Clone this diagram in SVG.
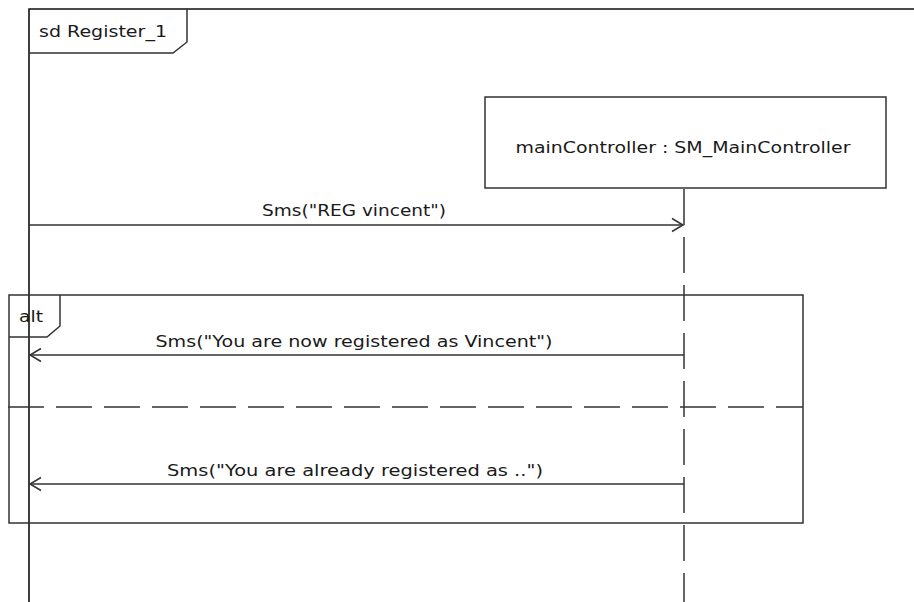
<svg xmlns="http://www.w3.org/2000/svg" width="914" height="602" viewBox="0 0 914 602">
  <style>
    .ln { fill: none; stroke: #333333; stroke-width: 1.5; }
    .frame { fill: none; stroke: #111111; stroke-width: 1.6; }
    .dash { fill: none; stroke: #333333; stroke-width: 1.5; stroke-dasharray: 36 12; }
    .lbl { font-family: "DejaVu Sans", "Liberation Sans", sans-serif; font-size: 15px; fill: #1a1a1a; }
    .mid { text-anchor: middle; }
  </style>
  <defs>
    <marker id="open" markerWidth="14" markerHeight="16" refX="12" refY="8" orient="auto" markerUnits="userSpaceOnUse">
      <path d="M1,1.5 L12,8 L1,14.5" fill="none" stroke="#333333" stroke-width="1.5"/>
    </marker>
  </defs>
  <rect width="914" height="602" fill="#ffffff"/>

  <!-- sequence diagram frame -->
  <g id="frame-sd">
    <path class="frame" d="M914,9 H29 V602"/>
    <path class="ln" d="M29,53 H173 L187,42 V9"/>
    <text class="lbl" x="39" y="37" textLength="128" lengthAdjust="spacingAndGlyphs">sd Register_1</text>
  </g>

  <!-- lifeline: mainController -->
  <g id="lifeline-mainController">
    <rect class="ln" x="485" y="97" width="401" height="91" fill="#ffffff"/>
    <text class="lbl mid" x="683" y="153" textLength="335" lengthAdjust="spacingAndGlyphs">mainController : SM_MainController</text>
    <line class="dash" x1="684" y1="189" x2="684" y2="602"/>
  </g>

  <!-- alt combined fragment -->
  <g id="fragment-alt">
    <rect class="ln" x="9" y="295" width="794" height="228"/>
    <path class="ln" d="M9,337 H47 L60,326 V295"/>
    <text class="lbl" x="19" y="322" textLength="24" lengthAdjust="spacingAndGlyphs">alt</text>
    <line class="dash" x1="8" y1="407" x2="803" y2="407"/>
  </g>

  <!-- messages -->
  <g id="connectors">
    <line class="ln" x1="29" y1="225" x2="683" y2="225" marker-end="url(#open)"/>
    <text class="lbl mid" x="354" y="216" textLength="184" lengthAdjust="spacingAndGlyphs">Sms("REG vincent")</text>

    <line class="ln" x1="684" y1="355" x2="30" y2="355" marker-end="url(#open)"/>
    <text class="lbl mid" x="354" y="347" textLength="397" lengthAdjust="spacingAndGlyphs">Sms("You are now registered as Vincent")</text>

    <line class="ln" x1="684" y1="484" x2="30" y2="484" marker-end="url(#open)"/>
    <text class="lbl mid" x="355" y="476" textLength="376" lengthAdjust="spacingAndGlyphs">Sms("You are already registered as ..")</text>
  </g>
</svg>
